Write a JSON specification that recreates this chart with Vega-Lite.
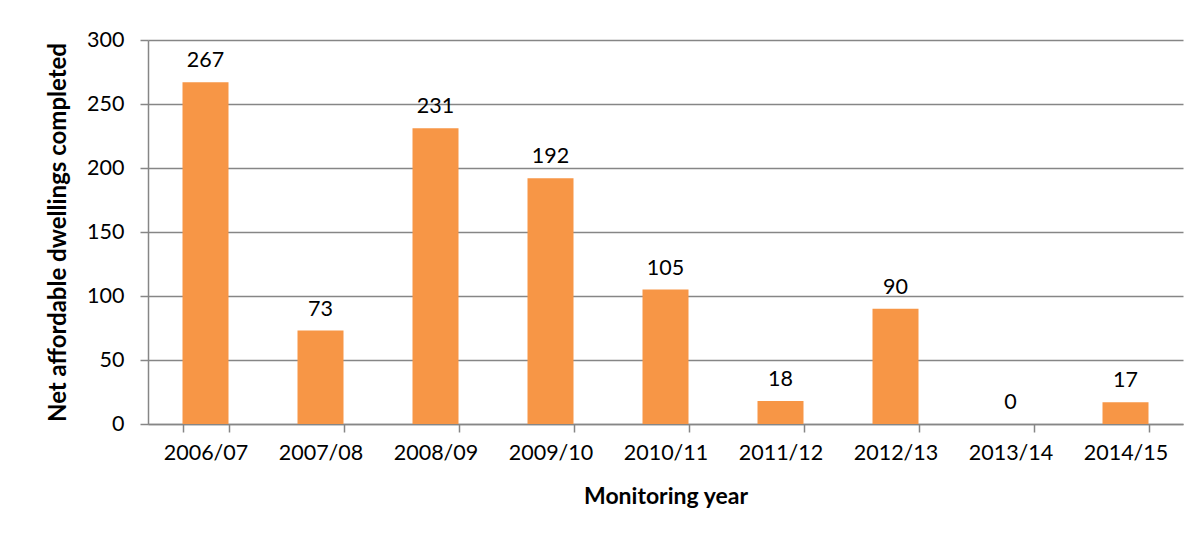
{
  "$schema": "https://vega.github.io/schema/vega-lite/v6.json",
  "width": 1035,
  "height": 384,
  "autosize": "none",
  "padding": {"left": 148, "top": 40, "right": 16, "bottom": 113},
  "background": "white",
  "config": {
    "view": {"stroke": null},
    "font": "Lato",
    "axis": {
      "labelFont": "Lato",
      "titleFont": "Lato",
      "labelColor": "#000000",
      "titleColor": "#000000",
      "domainColor": "#868686",
      "tickColor": "#868686",
      "gridColor": "#868686",
      "domainWidth": 1.5,
      "tickWidth": 1.5,
      "gridWidth": 1.5
    }
  },
  "data": {
    "values": [
      {"year": "2006/07", "value": 267},
      {"year": "2007/08", "value": 73},
      {"year": "2008/09", "value": 231},
      {"year": "2009/10", "value": 192},
      {"year": "2010/11", "value": 105},
      {"year": "2011/12", "value": 18},
      {"year": "2012/13", "value": 90},
      {"year": "2013/14", "value": 0},
      {"year": "2014/15", "value": 17}
    ]
  },
  "encoding": {
    "x": {
      "field": "year",
      "type": "nominal",
      "sort": null,
      "scale": {"paddingInner": 0.6, "paddingOuter": 0.3},
      "axis": {
        "title": "Monitoring year",
        "titleFontSize": 23,
        "titleFontWeight": "bold",
        "titlePadding": 22,
        "labelAngle": 0,
        "labelFontSize": 21.5,
        "labelPadding": 10,
        "tickSize": 8,
        "tickBand": "extent",
        "grid": false
      }
    },
    "y": {
      "field": "value",
      "type": "quantitative",
      "scale": {"domain": [0, 300]},
      "axis": {
        "title": "Net affordable dwellings completed",
        "titleFontSize": 24,
        "titleFontWeight": "bold",
        "titlePadding": 16,
        "values": [0, 50, 100, 150, 200, 250, 300],
        "labelFontSize": 21.5,
        "labelPadding": 16,
        "tickSize": 8,
        "grid": true,
        "domain": true
      }
    }
  },
  "layer": [
    {"mark": {"type": "bar", "color": "#F79646"}},
    {
      "mark": {"type": "text", "baseline": "bottom", "dy": -10, "fontSize": 21.5, "color": "#000000"},
      "encoding": {"text": {"field": "value", "type": "quantitative"}}
    }
  ]
}
